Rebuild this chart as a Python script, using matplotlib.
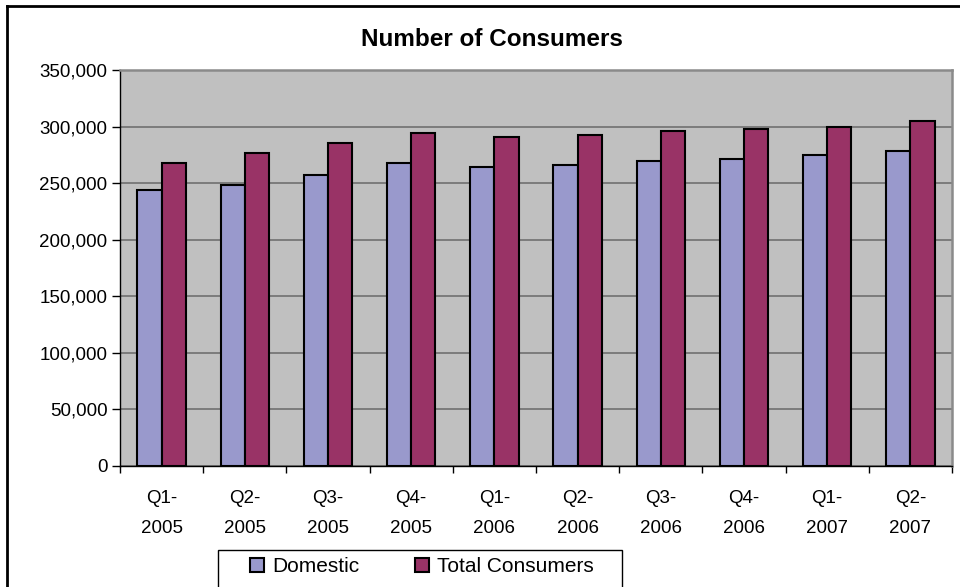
import numpy as np
import matplotlib
matplotlib.use('Agg')
import matplotlib.pyplot as plt
from matplotlib.lines import Line2D
from matplotlib.patches import Rectangle

plt.rcParams['font.family'] = ['Liberation Sans', 'DejaVu Sans']

# 数据
quarters = ['Q1-\n2005', 'Q2-\n2005', 'Q3-\n2005', 'Q4-\n2005', 'Q1-\n2006',
            'Q2-\n2006', 'Q3-\n2006', 'Q4-\n2006', 'Q1-\n2007', 'Q2-\n2007']
domestic = [243500, 248800, 257600, 268200, 264700,
            266200, 269800, 271700, 275300, 278800]
total_consumers = [268200, 277000, 285900, 294700, 291200,
                   292700, 296200, 298000, 299800, 305300]
y_ticks = [0, 50000, 100000, 150000, 200000, 250000, 300000, 350000]

W, H = 960, 587
fig = plt.figure(figsize=(W / 100, H / 100), dpi=100)
ax = fig.add_axes([120 / W, 1 - 466 / H, 832 / W, 396 / H])
ax.set_facecolor('#C0C0C0')

x = np.arange(len(quarters))
w = 0.29
ax.bar(x - w / 2, domestic, w, color='#9999CC', edgecolor='black',
       linewidth=1.5, label='Domestic', zorder=3)
ax.bar(x + w / 2, total_consumers, w, color='#993366', edgecolor='black',
       linewidth=1.5, label='Total Consumers', zorder=3)

ax.set_xlim(-0.5, len(quarters) - 0.5)
ax.set_ylim(0, 350000)
ax.set_yticks(y_ticks)
ax.set_yticklabels([f'{v:,}' for v in y_ticks], fontsize=13.5)
ax.yaxis.grid(True, color='#707070', linewidth=1.2, zorder=0)
ax.set_axisbelow(True)

# x 轴刻度在类别之间, 标签在类别中心
ax.set_xticks(np.arange(len(quarters) + 1) - 0.5)
ax.set_xticklabels([])
ax.set_xticks(x, minor=True)
ax.set_xticklabels(quarters, minor=True, fontsize=13.5, linespacing=2.05)
ax.tick_params(axis='x', which='minor', length=0, pad=17)
ax.tick_params(axis='x', which='major', length=5, direction='out', width=1)
ax.tick_params(axis='y', length=6, direction='out', width=1, pad=3)

for s in ['top', 'right']:
    ax.spines[s].set_color('#8A8A8A')
    ax.spines[s].set_linewidth(1.8)
for s in ['left', 'bottom']:
    ax.spines[s].set_color('black')
    ax.spines[s].set_linewidth(1)

fig.text(492 / W, 1 - 40 / H, 'Number of Consumers', ha='center', va='center',
         fontsize=17.5, fontweight='bold')

# 图例
leg = fig.legend(loc='center left', bbox_to_anchor=(250 / W, 1 - 567 / H),
                 ncol=2, fontsize=15, frameon=False, borderpad=0,
                 handlelength=0.65, handleheight=0.65, handletextpad=0.4,
                 columnspacing=2.7, borderaxespad=0)
for h in leg.legend_handles:
    h.set_linewidth(1.5)
fig.add_artist(Rectangle((218 / W, 1 - 620 / H), 404 / W, 70 / H,
                         transform=fig.transFigure, fill=False,
                         edgecolor='black', linewidth=1))

# 外边框
fig.add_artist(Line2D([7 / W, 1], [1 - 6 / H, 1 - 6 / H], color='black', linewidth=2))
fig.add_artist(Line2D([7 / W, 7 / W], [0, 1 - 6 / H], color='black', linewidth=2))

fig.savefig('out.png', dpi=100)
